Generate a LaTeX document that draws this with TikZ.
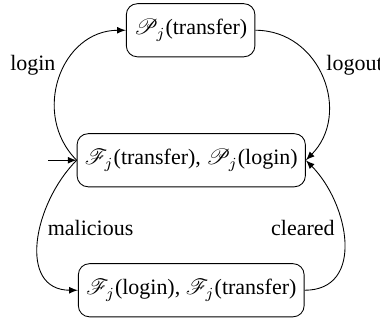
\documentclass[tikz,border=0pt]{standalone}
\usepackage{fontspec}
\setmainfont{Liberation Serif}
\usepackage{mathrsfs}
\usetikzlibrary{arrows}

\tikzset{
  state/.style={draw, rounded corners=5pt, minimum height=0.85cm, inner xsep=3.5pt},
  trans/.style={->, >=latex}
}

\begin{document}
\begin{tikzpicture}
		\useasboundingbox (0,0) rectangle (6.08,5.184);
		%%%%% states %%%%%
		\node[state] (tr) at (3.05,4.70) {$\mathscr{P}_j$(transfer)};
		\node[state] (both) at (3.06,2.62) {$\mathscr{F}_j$(transfer), $\mathscr{P}_j$(login)};
		\node[state] (flag) at (3.06,0.54) {$\mathscr{F}_j$(login), $\mathscr{F}_j$(transfer)};
		
		%%%%% initial %%%%%
		\coordinate (init) at (0.77,2.62);
		\draw[trans] (init) -- (both.west);
		
		%%%%% transitions %%%%%
		\draw[trans] (both.west) to[out=135, in=180, looseness=1.2] node[pos=0.58, left=1pt] {login} (tr.west);
		\draw[trans] (tr.east) to[out=0, in=45, looseness=1.2] node[pos=0.42, right=1pt] {logout} (both.east);
		\draw[trans] (both.west) to[out=225, in=180, looseness=1.2] node[pos=0.42, right=0pt] {malicious} (flag.west);
		\draw[trans] (flag.east) to[out=0, in=-45, looseness=1.2] node[pos=0.58, left=0pt] {cleared} (both.east);
\end{tikzpicture}
\end{document}
